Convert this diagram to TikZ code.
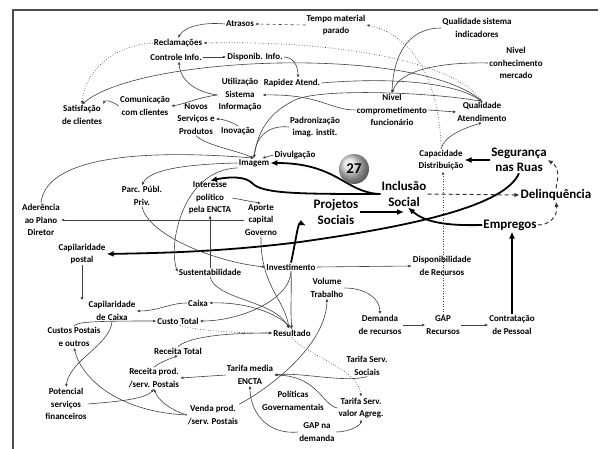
\documentclass[tikz,border=0pt]{standalone}
\usepackage{fontspec}
\setmainfont{Carlito}
\usetikzlibrary{arrows.meta}
\begin{document}
\begin{tikzpicture}[x=1pt,y=-1pt,
  lbl/.style={font=\fontsize{9}{12.5}\selectfont\bfseries, align=center, inner sep=1pt},
  big/.style={font=\fontsize{13}{15.5}\selectfont\bfseries, align=center, inner sep=1pt},
  link/.style={draw=black!75, line width=0.6pt, -{Latex[length=3.2pt,width=2.8pt]}},
  dotlink/.style={link, dotted, line width=0.7pt},
  dashlink/.style={draw=black!80, dash pattern=on 4pt off 3pt, line width=1pt, -{Latex[length=5pt,width=4.5pt]}},
  heavy/.style={draw=black, line width=1.8pt, -{Latex[length=7pt,width=6pt]}},
  frame/.style={draw=black!70, line width=1.3pt}]
\useasboundingbox (0,0) rectangle (600,449);
\draw[frame] (13,449) -- (13,10) -- (598,10);

% ---- variables ----
\node[lbl] (atr)   at (240,24)  {Atrasos};
\node[lbl] (tempo) at (336,25)  {Tempo material\\parado};
\node[lbl] (recl)  at (178,43)  {Reclamações};
\node[lbl] (ctrl)  at (176,57)  {Controle Info.};
\node[lbl] (disp)  at (255,57)  {Disponib. Info.};
\node[lbl] (qsi)   at (477,28)  {Qualidade sistema\\indicadores};
\node[lbl] (ncm)   at (516,63)  {Nivel\\conhecimento\\mercado};
\node[lbl] (rap)   at (292,83)  {Rapidez Atend.};
\node[lbl] (usi)   at (240,95)  {Utilização\\Sistema\\Informação};
\node[lbl] (sat)   at (82,115)  {Satisfação\\de clientes};
\node[lbl] (com)   at (145,106) {Comunicação\\com clientes};
\node[lbl] (nov)   at (196,119) {Novos\\Serviços e\\Produtos};
\node[lbl] (ino)   at (238,131) {Inovação};
\node[lbl] (pad)   at (315,127) {Padronização\\imag. instit.};
\node[lbl] (ncf)   at (392,110) {Nivel\\comprometimento\\funcionário};
\node[lbl] (qat)   at (482,112) {Qualidade\\Atendimento};
\node[lbl] (div)   at (295,155) {Divulgação};
\node[lbl] (img)   at (254,163) {Imagem};
\node[lbl] (cap)   at (441,160) {Capacidade\\Distribuição};
\node[big] (seg)   at (519,160) {Segurança\\nas Ruas};
\node[big] (inc)   at (404,194) {Inclusão\\Social};
\node[big] (del)   at (556,195) {Delinquência};
\node[big] (proj)  at (336,212) {Projetos\\Sociais};
\node[big] (emp)   at (510,225) {Empregos};
\node[lbl] (ppp)   at (142,196) {Parc. Públ.\\Priv.};
\node[lbl] (ipe)   at (210,198) {Interesse\\político\\pela ENCTA};
\node[lbl] (apo)   at (261,220) {Aporte\\capital\\Governo};
\node[lbl] (ade)   at (41,220)  {Aderência\\ao Plano\\Diretor};
\node[lbl] (capp)  at (82,254)  {Capilaridade\\postal};
\node[lbl] (sus)   at (210,272) {Sustentabilidade};
\node[lbl] (inv)   at (291,267) {Investimento};
\node[lbl] (dispr) at (442,266) {Disponibilidade\\de Recursos};
\node[lbl] (vol)   at (327,288) {Volume\\Trabalho};
\node[lbl] (capc)  at (112,311) {Capilaridade\\de Caixa};
\node[lbl] (caixa) at (198,303) {Caixa};
\node[lbl] (ctot)  at (178,321) {Custo Total};
\node[lbl] (cpo)   at (74,337)  {Custos Postais\\e outros};
\node[lbl] (res)   at (292,333) {Resultado};
\node[lbl] (dem)   at (380,325) {Demanda\\de recursos};
\node[lbl] (gap)   at (443,325) {GAP\\Recursos};
\node[lbl] (contr) at (512,325) {Contratação\\de Pessoal};
\node[lbl] (rtot)  at (178,351) {Receita Total};
\node[lbl] (rps)   at (154,378) {Receita prod.\\/serv. Postais};
\node[lbl] (tme)   at (250,375) {Tarifa media\\ENCTA};
\node[lbl] (tss)   at (367,366) {Tarifa Serv.\\Sociais};
\node[lbl] (pot)   at (66,404)  {Potencial\\serviços\\financeiros};
\node[lbl] (pol)   at (293,401) {Políticas\\Governamentais};
\node[lbl] (tva)   at (361,408) {Tarifa Serv.\\valor Agreg.};
\node[lbl] (vps)   at (213,415) {Venda prod.\\/serv. Postais};
\node[lbl] (gapd)  at (317,432) {GAP na\\demanda};

% ---- upper block ----
\draw[link] (atr.west) .. controls (205,22) and (185,26) .. (recl.north);
\draw[link, dashed] (tempo.west) -- (atr.east);
\draw[dotlink] (qat.north) .. controls (455,60) and (330,40) .. (recl.east);
\draw[dotlink] (recl.west) .. controls (115,45) and (85,70) .. (sat.north);
\draw[link] (qat.north) .. controls (420,45) and (140,55) .. (sat.north);
\draw[link] (ctrl.east) -- (disp.west);
\draw[link] (disp.east) .. controls (292,57) and (298,64) .. ([xshift=6pt]rap.north);
\draw[link] (usi.west) .. controls (195,92) and (180,80) .. ([xshift=3pt]ctrl.south);
\draw[link] (usi.west) .. controls (200,97) and (185,104) .. (com.east);
\draw[link] (com.west) .. controls (110,100) and (105,100) .. (sat.north east);
\draw[link] (ino.north) .. controls (232,122) and (222,119) .. (nov.east);
\draw[link] (nov.south) .. controls (205,145) and (235,150) .. (img.north);
\draw[link] (pad.west) .. controls (270,125) and (256,135) .. (img.north);
\draw[link] (div.west) -- ([xshift=-8pt]img.north east);
\draw[link] (qat.north) .. controls (430,92) and (320,88) .. (295,100)
            .. controls (270,112) and (258,130) .. (img.north);
\draw[link] (rap.east) .. controls (380,78) and (450,80) .. (qat.north);
\draw[link] (qsi.west) .. controls (405,28) and (393,60) .. (ncf.north);
\draw[link] (ncm.west) .. controls (440,62) and (400,70) .. (ncf.north);
\draw[link] (ncf.east) -- (qat.west);
\draw[link] (ncf.west) .. controls (330,110) and (320,94) .. (usi.east);
\draw[link] (cap.north) .. controls (445,135) and (465,128) .. (qat.south);
\draw[dotlink] (cap.north) .. controls (440,85) and (415,35) .. (tempo.east);
\draw[dotlink] (gap.north) -- (gap.north |- cap.south);

% ---- social loop ----
\draw[heavy] (seg.west) -- (cap.east);
\draw[heavy] (inc.west) .. controls (345,193) and (338,163) .. (img.east);
\draw[heavy] (inc.west) .. controls (300,194) and (262,194) .. (252,183)
             .. controls (246,177) and (232,176) .. (ipe.north);
\draw[heavy] (proj.east) -- (proj.east -| inc.south);
\draw[heavy] (emp.west) .. controls (445,226) and (425,222) .. ([xshift=4pt]inc.south);
\draw[heavy] (seg.south) .. controls (505,205) and (420,225) .. (300,242)
             .. controls (220,252) and (160,253) .. (capp.east);
\draw[heavy] (contr.north) -- (contr.north |- emp.south);
\draw[heavy] (inv.north) .. controls (296,240) and (298,222) .. ([xshift=-30pt]proj.south);
\draw[dashlink] (inc.east) -- (del.west);
\draw[dashlink] (emp.east) .. controls (548,225) and (558,218) .. (del.south);
\draw[dashlink] (del.north) .. controls (558,178) and (560,168) .. (seg.east);

% ---- middle block ----
\draw[link] (img.west) .. controls (195,164) and (150,168) .. (ppp.north);
\draw[link] (ade.north) .. controls (45,160) and (130,148) .. (img.north);
\draw[link] (img.south west) .. controls (182,170) and (168,245) .. (sus.west);
\draw[link] (ppp.south) .. controls (148,235) and (215,262) .. (inv.west);
\draw[link] (apo.west) -- (apo.west -| ade.east);
\draw[link] (sus.north -| ipe.south) -- (ipe.south);
\draw[link] (ipe.east) -- (apo.north);
\draw[link] (apo.south) .. controls (260,285) and (285,300) .. ([xshift=-3pt]res.north);
\draw[link] (inv.east) -- (dispr.west);
\draw[link] (inv.south) .. controls (290,300) and (240,321) .. (ctot.east);
\draw[link] (sus.south) .. controls (215,300) and (275,300) .. ([xshift=-3pt]res.north);
\draw[link] (inv.south) .. controls (292,290) and (290,310) .. (res.north);
\draw[link] (res.north) .. controls (275,310) and (240,302) .. (caixa.east);
\draw[link] (capp.south) -- (capp.south |- capc.north);
\draw[link] (caixa.west) .. controls (170,303) and (158,311) .. (capc.east);
\draw[link] (cpo.north) .. controls (76,322) and (90,321) .. (ctot.west);

% ---- lower block ----
\draw[dotlink] ([xshift=2pt]ctot.south) .. controls (200,332) and (250,333) .. (res.west);
\draw[link] (rtot.north) .. controls (190,336) and (230,333) .. (res.west);
\draw[link] (rps.north) .. controls (160,362) and (172,358) .. (rtot.south);
\draw[link] (tme.west) -- (rps.east);
\draw[link] (capc.south) .. controls (110,345) and (70,360) .. (pot.north);
\draw[link] (pot.east) .. controls (110,402) and (145,400) .. (rps.south);
\draw[link] (vps.west) .. controls (170,410) and (158,400) .. (rps.south);
\draw[link] (vps.west) .. controls (120,412) and (82,380) .. (cpo.south);
\draw[link] (vps.north east) .. controls (270,388) and (326,345) .. (vol.south);
\draw[link] (gapd.west) .. controls (265,435) and (250,410) .. (tme.south);
\draw[link] (gapd.east) .. controls (350,432) and (361,425) .. (tva.south);
\draw[link] (tss.south) .. controls (345,383) and (300,372) .. (tme.east);
\draw[link] (tva.west) .. controls (322,405) and (318,376) .. (tme.east);
\draw[dotlink] (res.south) .. controls (305,355) and (358,368) .. (tva.north);
\draw[link] (vol.east) .. controls (365,288) and (380,298) .. (dem.north);
\draw[link] (dem.east) -- (gap.west);
\draw[link] (gap.east) -- (contr.west);

% ---- badge ----
\node[circle, minimum size=30pt, inner sep=0pt, shading=ball, ball color=gray!30,
      font=\fontsize{15}{15}\selectfont\bfseries] (badge) at (354,169) {27};
\end{tikzpicture}
\end{document}
